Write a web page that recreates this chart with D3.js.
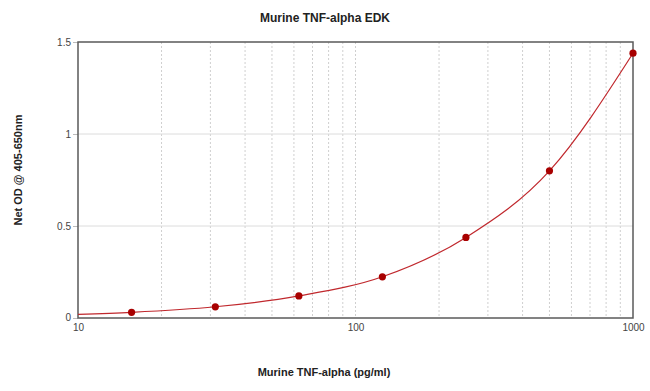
<!DOCTYPE html>
<html>
<head>
<meta charset="utf-8">
<script src="https://cdn.jsdelivr.net/npm/d3@7"></script>
<style>
  body { margin: 0; background: #fff; }
  text { font-family: "Liberation Sans", Arial, sans-serif; }
</style>
</head>
<body>
<div id="chart"></div>
<script>
// Standard concentrations (pg/ml) and measured OD
var concentration = [15.6, 31.25, 62.5, 125, 250, 500, 1000];
var netOD = [0.031, 0.061, 0.12, 0.224, 0.438, 0.80, 1.439];

// fitted curve (starts at the left edge)
var fitConc = [10, 15.6, 31.25, 62.5, 125, 250, 500, 1000];
var fitOD = [0.020, 0.031, 0.061, 0.12, 0.224, 0.438, 0.80, 1.439];

var yTicks = [0, 0.5, 1, 1.5];
var xTicks = [10, 100, 1000];
var xGrid = [20, 30, 40, 50, 60, 70, 80, 90, 100, 200, 300, 400, 500, 600, 700, 800, 900];

var width = 650, height = 391;
var margin = { top: 42, right: 17, bottom: 73, left: 78 },
    w = width - margin.left - margin.right,
    h = height - margin.top - margin.bottom;

var svg = d3.select("#chart")
    .append("svg")
    .attr("width", width)
    .attr("height", height);

var g = svg.append("g")
    .attr("transform", "translate(" + margin.left + "," + margin.top + ")");

var x = d3.scaleLog()
    .domain([10, 1000])
    .range([0, w]);

var y = d3.scaleLinear()
    .domain([0, 1.5])
    .range([h, 0]);

// vertical grid (dotted)
g.selectAll(".vgrid")
    .data(xGrid)
    .enter().append("line")
    .attr("class", "vgrid")
    .attr("x1", function (d) { return x(d); })
    .attr("x2", function (d) { return x(d); })
    .attr("y1", 0)
    .attr("y2", h)
    .attr("stroke", "#cfcfcf")
    .attr("stroke-width", 1)
    .attr("stroke-dasharray", "2,2");

// horizontal grid
g.selectAll(".hgrid")
    .data(yTicks.slice(1, 3))
    .enter().append("line")
    .attr("class", "hgrid")
    .attr("x1", 0)
    .attr("x2", w)
    .attr("y1", function (d) { return y(d); })
    .attr("y2", function (d) { return y(d); })
    .attr("stroke", "#dcdcdc")
    .attr("stroke-width", 1);

// Y axis
var yAxis = g.append("g")
    .call(d3.axisLeft(y).tickValues(yTicks).tickSize(5).tickPadding(2)
        .tickFormat(function (d) { return d; }));
yAxis.select(".domain").remove();
yAxis.selectAll("line").attr("stroke", "#bbb");
yAxis.selectAll("text")
    .attr("fill", "#444")
    .style("font-size", "10px");
yAxis.selectAll(".tick").filter(function (d) { return d === 0; })
    .select("text").attr("dy", "0.2em");

// X axis
var xAxis = g.append("g")
    .attr("transform", "translate(0," + h + ")")
    .call(d3.axisBottom(x).tickValues(xTicks).tickSize(0).tickPadding(6)
        .tickFormat(d3.format("d")));
xAxis.select(".domain").remove();
xAxis.selectAll("text")
    .attr("fill", "#444")
    .style("font-size", "10px");

// frame
g.append("rect")
    .attr("x", 0)
    .attr("y", 0)
    .attr("width", w)
    .attr("height", h)
    .attr("fill", "none")
    .attr("stroke", "#5a5a5a")
    .attr("stroke-width", 1.5);

// fitted curve
var fit = fitConc.map(function (c, i) { return { c: c, od: fitOD[i] }; });
g.append("path")
    .datum(fit)
    .attr("fill", "none")
    .attr("stroke", "#c0282d")
    .attr("stroke-width", 1.2)
    .attr("d", d3.line()
        .curve(d3.curveMonotoneX)
        .x(function (d) { return x(d.c); })
        .y(function (d) { return y(d.od); }));

// points
g.selectAll(".pt")
    .data(concentration)
    .enter().append("circle")
    .attr("class", "pt")
    .attr("cx", function (d) { return x(d); })
    .attr("cy", function (d, i) { return y(netOD[i]); })
    .attr("r", 3.6)
    .attr("fill", "#a80000");

// titles
svg.append("text")
    .attr("x", 325)
    .attr("y", 22)
    .attr("text-anchor", "middle")
    .style("font-size", "12px")
    .style("font-weight", "bold")
    .attr("fill", "#222")
    .text("Murine TNF-alpha EDK");

svg.append("text")
    .attr("x", 324)
    .attr("y", 376)
    .attr("text-anchor", "middle")
    .style("font-size", "11px")
    .style("font-weight", "bold")
    .attr("fill", "#222")
    .text("Murine TNF-alpha (pg/ml)");

svg.append("text")
    .attr("transform", "translate(22,170) rotate(-90)")
    .attr("text-anchor", "middle")
    .style("font-size", "11px")
    .style("font-weight", "bold")
    .attr("fill", "#222")
    .text("Net OD @ 405-650nm");
</script>
</body>
</html>
